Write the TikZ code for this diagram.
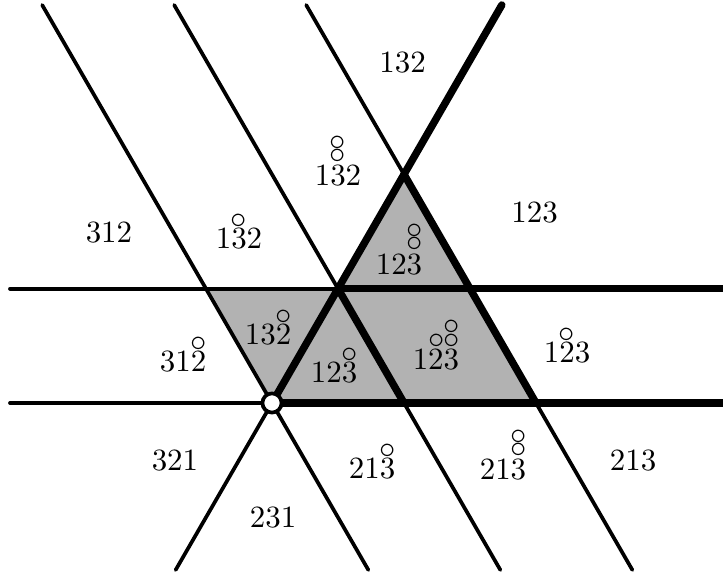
\documentclass[tikz,border=0pt]{standalone}
\newcommand{\oc}{\scalebox{1.05}{$\circ$}}
\newcommand{\ringone}[1]{\ooalign{#1\cr\hidewidth\raisebox{6.7pt}{\oc}\hidewidth\cr}}
\newcommand{\ringtwo}[1]{\ooalign{#1\cr\hidewidth\raisebox{7.4pt}{\oc\llap{\raisebox{4pt}{\oc}}}\hidewidth\cr}}
\newcommand{\ringthree}[1]{\ooalign{#1\cr\hidewidth\raisebox{7.1pt}{\llap{\oc\kern-0.35pt}\oc\llap{\raisebox{4.5pt}{\oc}}}\hidewidth\cr}}
\begin{document}
\begin{tikzpicture}[x=1.5cm,y=1.5cm,
  thinline/.style={line width=1.2pt,line cap=round},
  thickline/.style={line width=2.4pt,line cap=round},
  lab/.style={anchor=base,inner sep=0pt}]
\useasboundingbox (-2.0606,-1.318) rectangle (3.4167,3.053);
\clip (-2.0606,-1.318) rectangle (3.4167,3.053);
\coordinate (o) at (0,0);
\coordinate (p) at (1,0);
\coordinate (q) at (2,0);
\coordinate (a) at (-0.5,0.866);
\coordinate (b) at (0.5,0.866);
\coordinate (c) at (1.5,0.866);
\coordinate (t) at (1,1.732);
\coordinate (h0l) at (-1.985,0);
\coordinate (h1l) at (-1.985,0.866);
\coordinate (h0r) at (3.6,0);
\coordinate (h1r) at (3.6,0.866);
\coordinate (ub) at (-0.730,-1.265);
\coordinate (ut) at (1.741,3.015);
\coordinate (d0t) at (-1.741,3.015);
\coordinate (d0b) at (0.730,-1.265);
\coordinate (d1t) at (-0.741,3.015);
\coordinate (d1b) at (1.730,-1.265);
\coordinate (d2t) at (0.259,3.015);
\coordinate (d2b) at (2.730,-1.265);
\fill[black!30] (a) -- (b) -- (t) -- (c) -- (q) -- (o) -- cycle;
\draw[thinline] (h0l) -- (o);
\draw[thinline] (h1l) -- (b);
\draw[thinline] (ub) -- (o);
\draw[thinline] (d0t) -- (d0b);
\draw[thinline] (d1t) -- (b);
\draw[thinline] (p) -- (d1b);
\draw[thinline] (d2t) -- (t);
\draw[thinline] (q) -- (d2b);
\draw[thickline] (o) -- (h0r);
\draw[thickline] (b) -- (h1r);
\draw[thickline] (o) -- (ut);
\draw[thickline] (b) -- (p);
\draw[thickline] (t) -- (q);
\node[circle,draw,fill=white,line width=1.2pt,inner sep=0pt,minimum size=6.2pt] (zero) at (o) {};
\node[lab] (n132) at (0.99,2.5) {132};
\node[lab] (n132b) at (0.5,1.644) {1\ringtwo{3}2};
\node[lab] (n123) at (1.99,1.364) {123};
\node[lab] (n312) at (-1.235,1.212) {312};
\node[lab] (n132a) at (-0.25,1.167) {1\ringone{3}2};
\node[lab] (n123b) at (0.962,0.977) {12\ringtwo{3}};
\node[lab] (n312a) at (-0.674,0.235) {31\ringone{2}};
\node[lab] (n132c) at (-0.03,0.44) {13\ringone{2}};
\node[lab] (n123a) at (0.47,0.152) {12\ringone{3}};
\node[lab] (n123c) at (1.242,0.25) {12\ringthree{3}};
\node[lab] (n123d) at (2.235,0.303) {1\ringone{2}3};
\node[lab] (n321) at (-0.735,-0.508) {321};
\node[lab] (n213a) at (0.758,-0.575) {21\ringone{3}};
\node[lab] (n213b) at (1.75,-0.583) {21\ringtwo{3}};
\node[lab] (n213) at (2.735,-0.508) {213};
\node[lab] (n231) at (0.008,-0.94) {231};
\end{tikzpicture}
\end{document}
